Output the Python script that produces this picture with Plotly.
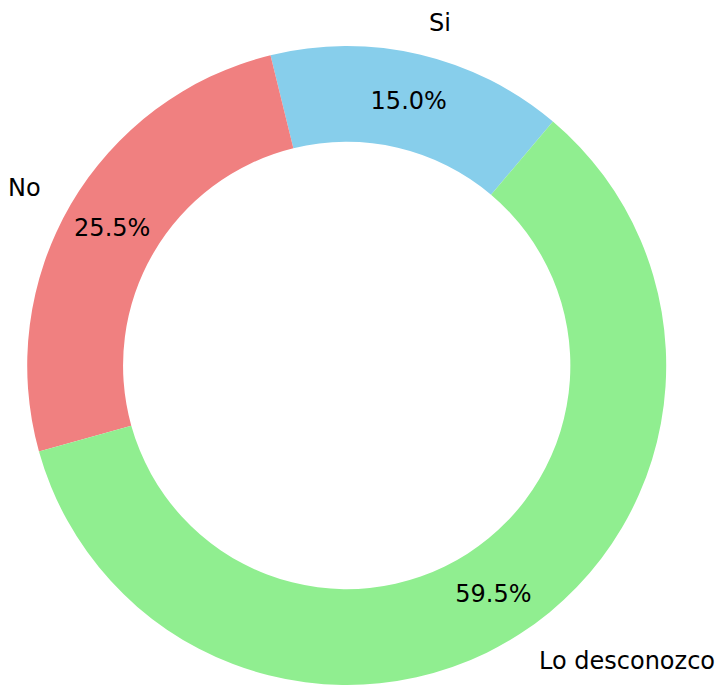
import math
import plotly.graph_objects as go

labels = ["Si", "No", "Lo desconozco"]
values = [15.0, 25.5, 59.5]
colors = ["#87CEEB", "#F08080", "#90EE90"]

W, H = 728, 685
cx, cy, R = 346.7, 365.5, 319.5   # pie centre / radius in pixels
start = 49.8                      # degrees, counter-clockwise from 3 o'clock

total = sum(values)
# plotly puts the end of the first ccw slice at 90 - rotation
rot = 90 - (start + 360 * values[0] / total)

fig = go.Figure(go.Pie(
    labels=labels, values=values, sort=False,
    direction="counterclockwise", rotation=rot,
    hole=0.7,
    marker=dict(colors=colors, line=dict(width=0)),
    texttemplate="%{percent:.1%}", textposition="inside",
    insidetextorientation="horizontal",
    textfont=dict(family="DejaVu Sans", size=24, color="black"),
    showlegend=False, hoverinfo="label+percent",
    domain=dict(x=[(cx - R) / W, (cx + R) / W],
                y=[max(0, (H - cy - R) / H), min(1, (H - cy + R) / H)]),
))

# outer labels, like matplotlib's labeldistance=1.1
acc = 0
for lab, v in zip(labels, values):
    mid = math.radians(start + 360 * (acc + v / 2) / total)
    acc += v
    xp = cx + 1.1 * R * math.cos(mid)
    yp = cy - 1.1 * R * math.sin(mid)
    fig.add_annotation(
        x=xp / W, y=(H - yp) / H, xref="paper", yref="paper",
        text=lab, showarrow=False,
        xanchor="left" if math.cos(mid) > 0 else "right", yanchor="middle",
        font=dict(family="DejaVu Sans", size=24, color="black"),
    )

fig.update_layout(
    width=W, height=H,
    margin=dict(l=0, r=0, t=0, b=0),
    paper_bgcolor="white", plot_bgcolor="white",
)
fig.write_html("out.html", config={"displayModeBar": False},
               post_script="document.body.style.margin='0';")
